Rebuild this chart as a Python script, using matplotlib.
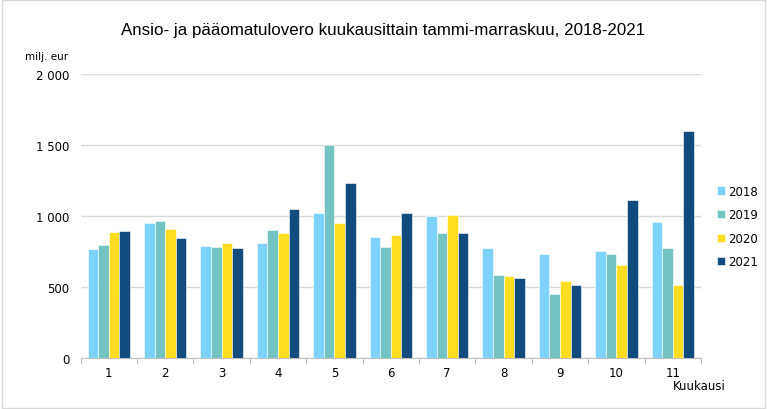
import numpy as np
import matplotlib
matplotlib.use("Agg")
import matplotlib.pyplot as plt
from matplotlib.patches import Rectangle
from matplotlib.ticker import FuncFormatter

# Data (milj. eur)
months = ["1", "2", "3", "4", "5", "6", "7", "8", "9", "10", "11"]
years = ["2018", "2019", "2020", "2021"]
v2018 = [768, 948, 789, 808, 1021, 850, 998, 777, 732, 751, 960]
v2019 = [798, 965, 784, 899, 1500, 784, 882, 582, 451, 732, 777]
v2020 = [885, 908, 812, 878, 953, 868, 1005, 575, 544, 657, 512]
v2021 = [894, 845, 777, 1052, 1232, 1021, 882, 561, 512, 1115, 1599]
colors = ["#7dd3fc", "#72c3c1", "#ffde21", "#124b7e"]

series = [v2018, v2019, v2020, v2021]

fig = plt.figure(figsize=(7.67, 4.10), dpi=100)
fig.patches.append(Rectangle((0.002, 0.002), 0.996, 0.996, transform=fig.transFigure,
                             fill=False, edgecolor="#d9d9d9", linewidth=1))
ax = fig.add_axes([0.105, 0.125, 0.809, 0.692])

x = np.arange(len(months))
w = 0.1875
for i, (vals, col, yr) in enumerate(zip(series, colors, years)):
    ax.bar(x + (i - 1.5) * w, vals, width=w, color=col, edgecolor="white",
           linewidth=0.4, label=yr, zorder=3)

ax.set_xlim(-0.5, len(months) - 0.5)
ax.set_ylim(0, 2000)
ax.set_yticks([0, 500, 1000, 1500, 2000])
ax.yaxis.set_major_formatter(FuncFormatter(lambda v, p: f"{int(v):,}".replace(",", " ")))
ax.grid(axis="y", color="#d9d9d9", linewidth=1, zorder=0)
ax.set_xticks(x)
ax.set_xticklabels(months)
ax.set_xticks(np.arange(-0.5, len(months)), minor=True)
ax.tick_params(axis="x", which="major", length=0, pad=6, labelsize=8.5)
ax.tick_params(axis="x", which="minor", length=4, color="#bfbfbf", width=0.8)
ax.tick_params(axis="y", length=0, pad=8, labelsize=8.5)

for s in ["top", "right", "left"]:
    ax.spines[s].set_visible(False)
ax.spines["bottom"].set_color("#bfbfbf")

fig.text(0.5, 0.925, "Ansio- ja pääomatulovero kuukausittain tammi-marraskuu, 2018-2021",
         ha="center", va="center", fontsize=12.2, family="Liberation Sans")
fig.text(0.033, 0.86, "milj. eur", ha="left", va="center", fontsize=7.5)
fig.text(0.912, 0.058, "Kuukausi", ha="center", va="center", fontsize=8.5)

ax.legend(loc="center left", bbox_to_anchor=(0.935, 0.445), bbox_transform=fig.transFigure,
          frameon=False, fontsize=8.5, handlelength=0.7, handleheight=0.7,
          handletextpad=0.2, labelspacing=0.9, borderpad=0, borderaxespad=0)

fig.savefig("out.png", dpi=100)
